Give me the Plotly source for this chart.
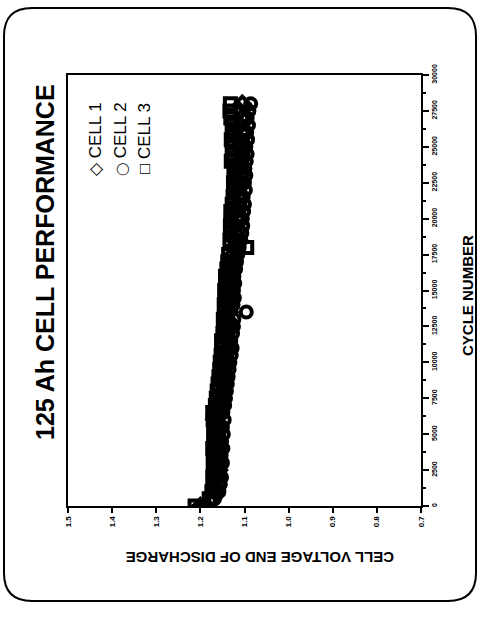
import plotly.graph_objects as go

# Cycle numbers at which the end-of-discharge voltage was logged
cycles = [0, 500, 1000, 1500, 2000, 2500, 3000, 3500, 4000, 4500,
          5000, 5500, 6000, 6500, 7000, 7500, 8000, 8500, 9000, 9500,
          10000, 10500, 11000, 11500, 12000, 12500, 13000, 13500, 14000, 14500,
          15000, 15500, 16000, 16500, 17000, 17500, 18000, 18500, 19000, 19500,
          20000, 20500, 21000, 21500, 22000, 22500, 23000, 23500, 24000, 24500,
          25000, 25500, 26000, 26500, 27000, 27500, 28000]

cell1 = [1.200, 1.172, 1.166, 1.160, 1.163, 1.158, 1.161, 1.166, 1.159, 1.157,
         1.163, 1.160, 1.168, 1.158, 1.155, 1.152, 1.150, 1.149, 1.146, 1.148,
         1.142, 1.145, 1.140, 1.138, 1.141, 1.136, 1.139, 1.134, 1.137, 1.133,
         1.135, 1.131, 1.134, 1.130, 1.128, 1.126, 1.124, 1.122, 1.120, 1.121,
         1.117, 1.119, 1.115, 1.113, 1.116, 1.112, 1.110, 1.114, 1.111, 1.108,
         1.112, 1.109, 1.106, 1.110, 1.107, 1.111, 1.105]

cell2 = [1.195, 1.168, 1.158, 1.155, 1.152, 1.156, 1.150, 1.153, 1.149, 1.152,
         1.148, 1.150, 1.146, 1.149, 1.145, 1.143, 1.141, 1.139, 1.137, 1.135,
         1.133, 1.130, 1.128, 1.131, 1.127, 1.125, 1.124, 1.096, 1.126, 1.123,
         1.125, 1.122, 1.124, 1.120, 1.118, 1.115, 1.112, 1.108, 1.106, 1.104,
         1.105, 1.102, 1.100, 1.103, 1.098, 1.100, 1.097, 1.099, 1.096, 1.094,
         1.097, 1.093, 1.095, 1.091, 1.094, 1.090, 1.086]

cell3 = [1.212, 1.180, 1.174, 1.170, 1.172, 1.168, 1.171, 1.169, 1.172, 1.167,
         1.170, 1.168, 1.171, 1.172, 1.166, 1.164, 1.162, 1.160, 1.158, 1.156,
         1.155, 1.153, 1.151, 1.152, 1.149, 1.147, 1.148, 1.145, 1.146, 1.143,
         1.145, 1.142, 1.143, 1.140, 1.138, 1.136, 1.095, 1.133, 1.131, 1.132,
         1.130, 1.131, 1.128, 1.126, 1.124, 1.125, 1.122, 1.124, 1.130, 1.128,
         1.126, 1.130, 1.128, 1.127, 1.131, 1.133, 1.132]

volt_ticks = [1.5, 1.4, 1.3, 1.2, 1.1, 1.0, 0.9, 0.8, 0.7]
volt_labels = ["1.5", "1.4", "1.3", "1.2", "1.1", "1.0", "0.9", "0.8", "0.7"]
cycle_ticks = [0, 2500, 5000, 7500, 10000, 12500, 15000, 17500,
               20000, 22500, 25000, 27500, 30000]
cycle_labels = [str(c) for c in cycle_ticks]

series = [("CELL 1", cell1, "diamond-open"),
          ("CELL 2", cell2, "circle-open"),
          ("CELL 3", cell3, "square-open")]

W, H = 479, 627
ML, MR, MT, MB = 68, 58, 75, 121
PW, PH = W - ML - MR, H - MT - MB

SANS = "Liberation Sans, Arial, Helvetica, sans-serif"


def px(xp):
    return (xp - ML) / PW


def py(yp):
    return (H - MB - yp) / PH


fig = go.Figure()

# Chart is laid out turned a quarter-turn: voltage runs across, cycles run up
for name, volts, sym in series:
    fig.add_trace(go.Scatter(
        x=volts, y=cycles, mode="markers", name=name,
        marker=dict(symbol=sym, size=11, color="black",
                    line=dict(width=4.0, color="black")),
        showlegend=False,
    ))

fig.update_xaxes(
    range=[1.5, 0.7], tickvals=volt_ticks, ticktext=volt_labels,
    tickangle=-90, ticks="outside", ticklen=5, tickwidth=1.5, tickcolor="black",
    showline=True, linewidth=2, linecolor="black", mirror=True,
    showgrid=False, zeroline=False,
    tickfont=dict(family=SANS, size=8, color="black", weight="bold"),
)
fig.update_yaxes(
    range=[0, 30000], side="right", tickvals=cycle_ticks, ticktext=cycle_labels,
    tickangle=-90, ticks="outside", ticklen=6, tickwidth=1.5, tickcolor="black",
    minor=dict(dtick=1250, ticks="outside", ticklen=3, tickcolor="black"),
    showline=True, linewidth=2, linecolor="black", mirror=True,
    showgrid=False, zeroline=False,
    tickfont=dict(family=SANS, size=7, color="black", weight="bold"),
)

annotations = [
    dict(text="125 Ah CELL PERFORMANCE", x=px(45), y=py(262), textangle=-90,
         font=dict(family=SANS, size=25, color="black", weight="bold")),
    dict(text="CYCLE NUMBER", x=px(467), y=py(296), textangle=-90,
         font=dict(family=SANS, size=15, color="black", weight="bold")),
    dict(text="CELL VOLTAGE END OF DISCHARGE", x=px(260), y=py(558), textangle=180,
         font=dict(family=SANS, size=15, color="black", weight="bold")),
]
legend_text = ["\u25C7 CELL 1",
               "<span style='font-size:12px'>\u25EF</span> CELL 2",
               "\u25A1 CELL 3"]
for xp, txt in zip([95, 120, 144], legend_text):
    annotations.append(dict(text=txt, x=px(xp), y=py(139), textangle=-90,
                            font=dict(family=SANS, size=17, color="black")))
for a in annotations:
    a.update(xref="paper", yref="paper", showarrow=False,
             xanchor="center", yanchor="middle")

# Rounded outer border of the slide
L, R, T, B, r = 4, 476, 8, 601, 28
path = (f"M {px(L + r)},{py(T)} L {px(R - r)},{py(T)} "
        f"Q {px(R)},{py(T)} {px(R)},{py(T + r)} "
        f"L {px(R)},{py(B - r)} Q {px(R)},{py(B)} {px(R - r)},{py(B)} "
        f"L {px(L + r)},{py(B)} Q {px(L)},{py(B)} {px(L)},{py(B - r)} "
        f"L {px(L)},{py(T + r)} Q {px(L)},{py(T)} {px(L + r)},{py(T)} Z")

fig.update_layout(
    width=W, height=H,
    margin=dict(l=ML, r=MR, t=MT, b=MB),
    paper_bgcolor="white", plot_bgcolor="white",
    annotations=annotations,
    shapes=[dict(type="path", path=path, xref="paper", yref="paper",
                 line=dict(color="black", width=2))],
)

fig.write_html("out.html")
